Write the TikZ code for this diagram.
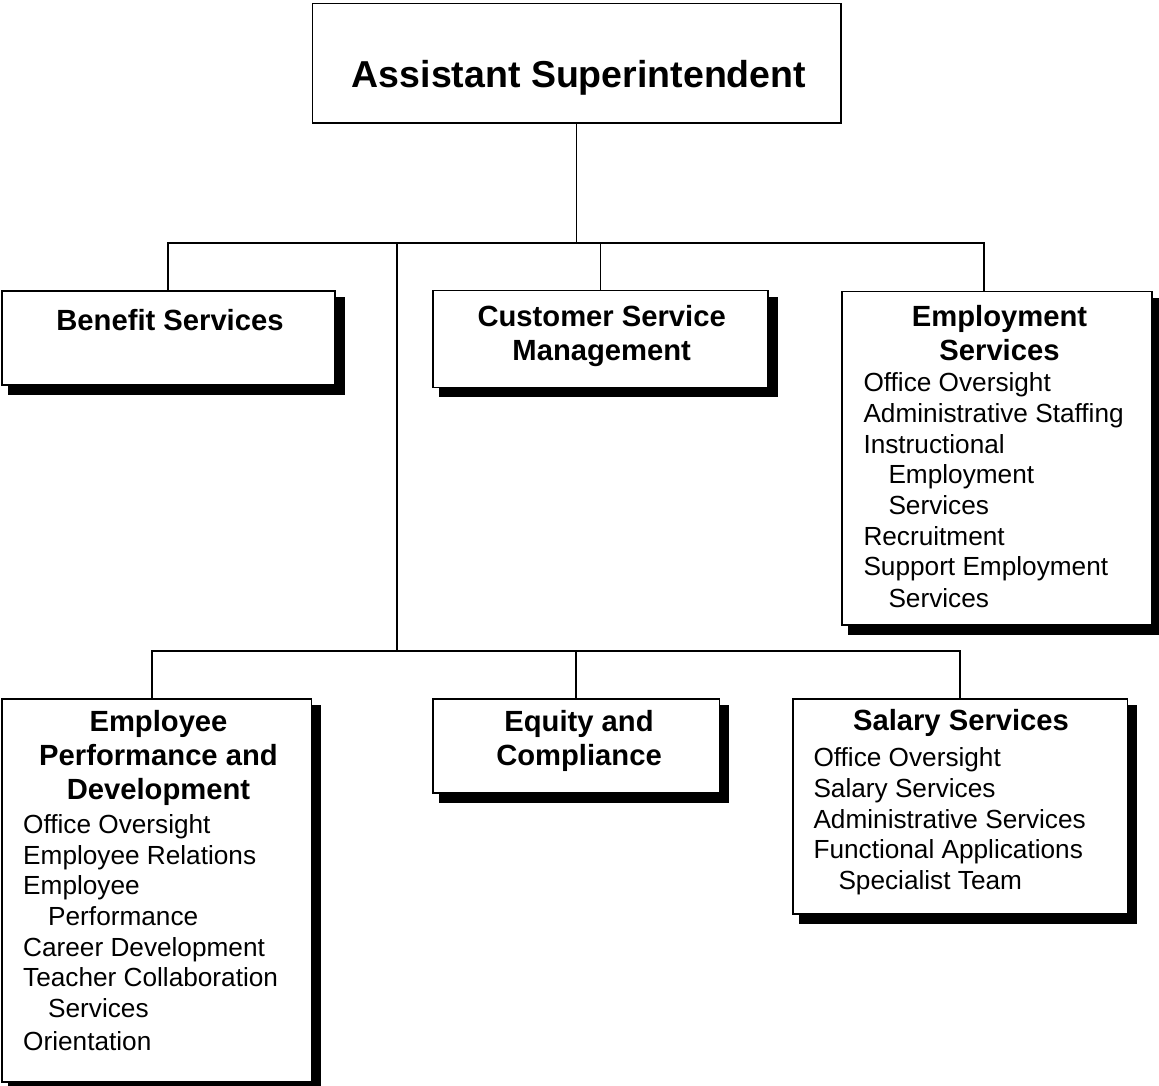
\documentclass[tikz,border=0pt]{standalone}
\usepackage{fontspec}
\setmainfont{Liberation Sans}
\usetikzlibrary{calc,backgrounds}
\begin{document}
\begin{tikzpicture}[x=1pt,y=-1pt,
  unitbox/.style={draw, fill=white, line width=1.8pt, rectangle, inner sep=0pt,
    outer sep=0pt, anchor=north west},
  link/.style={line width=1.7pt},
  titletext/.style={font=\bfseries\fontsize{37.5}{40}\selectfont, anchor=base, inner sep=0pt},
  headtext/.style={font=\bfseries\fontsize{29.2}{33.8}\selectfont, align=center,
    anchor=base, inner sep=0pt},
  bodytext/.style={font=\fontsize{26.2}{30.7}\selectfont, align=left,
    anchor=base west, inner sep=0pt},
]
\useasboundingbox (0,0) rectangle (1159,1086);

% boxes
\node[unitbox, minimum width=528.2pt, minimum height=119.2pt] (top) at (312.5,3.5) {};
\node[unitbox, minimum width=333.3pt, minimum height=94pt]    (ben) at (1.7,291) {};
\node[unitbox, minimum width=335.3pt, minimum height=97pt]    (csm) at (432.7,290.5) {};
\node[unitbox, minimum width=310pt,   minimum height=333.5pt] (emp) at (841.7,291.5) {};
\node[unitbox, minimum width=309.8pt, minimum height=382.7pt] (epd) at (1.7,699) {};
\node[unitbox, minimum width=286.8pt, minimum height=94pt]    (eqc) at (432.7,699.3) {};
\node[unitbox, minimum width=334.8pt, minimum height=214.7pt] (sal) at (792.7,699.3) {};

% drop shadows behind the unit boxes
\begin{scope}[on background layer]
  \foreach \b in {ben,csm,emp,epd,eqc,sal}
    \fill ($(\b.north west)+(6,6)$) rectangle ($(\b.south east)+(9.5,9.5)$);
\end{scope}

% connector lines
\coordinate (busA) at (168.3,242.7);
\coordinate (busB) at (984,242.7);
\coordinate (stem) at (397,242.7);
\coordinate (busC) at (152,650.7);
\coordinate (busD) at (960,650.7);

\draw[link] (top.south) -- (top.south |- busA);
\draw[link] (busA |- ben.north) -- (busA) -- (busB) -- (busB |- emp.north);
\draw[link] (csm.north) -- (csm.north |- busA);
\draw[link] (stem) -- (stem |- busC);
\draw[link] (busC |- epd.north) -- (busC) -- (busD) -- (busD |- sal.north);
\draw[link] (eqc.north) -- (eqc.north |- busC);

% titles (multi-line nodes are placed by the baseline of their last line)
\node[titletext] (ttl) at (579,87.8) {Assistant Superintendent};
\node[headtext] (benh) at (170,330) {Benefit Services};
\node[headtext] (csmh) at (601.7,360.5) {Customer Service\\Management};
\node[headtext] (emph) at (999.5,360.5) {Employment\\Services};
\node[headtext] (epdh) at (158.5,799.3) {Employee\\Performance and\\Development};
\node[headtext] (eqch) at (579,765.5) {Equity and\\Compliance};
\node[headtext] (salh) at (961,730) {Salary Services};

% unit contents
\node[bodytext] (empb) at (863.3,607.6) {Office Oversight\\
Administrative Staffing\\
Instructional\\
\hspace*{25pt}Employment\\
\hspace*{25pt}Services\\
Recruitment\\
Support Employment\\[1pt]
\hspace*{25pt}Services};

\node[bodytext] (epdb) at (23,1050.7) {Office Oversight\\
Employee Relations\\
Employee\\
\hspace*{25pt}Performance\\
Career Development\\
Teacher Collaboration\\
\hspace*{25pt}Services\\[2.5pt]
Orientation};

\node[bodytext] (salb) at (813.3,889.5) {Office Oversight\\
Salary Services\\
Administrative Services\\
Functional Applications\\
\hspace*{25pt}Specialist Team};
\end{tikzpicture}
\end{document}
